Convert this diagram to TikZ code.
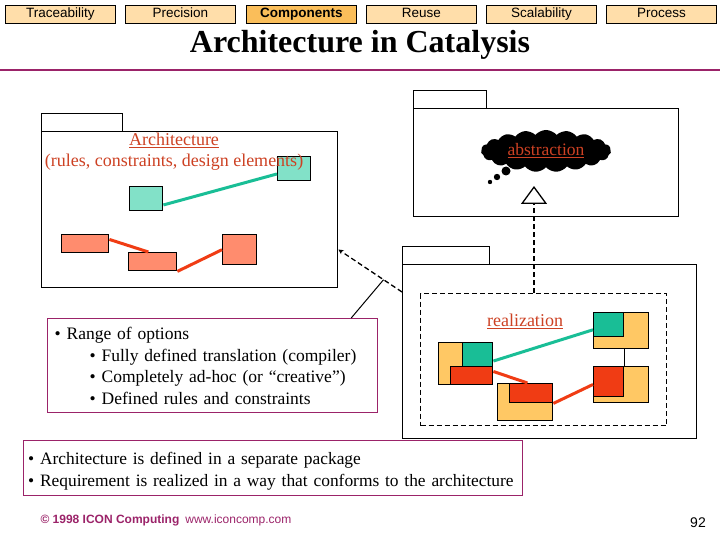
\documentclass[tikz,border=0pt]{standalone}
\usepackage{fontspec}
\setmainfont{Liberation Serif}
\setsansfont{Liberation Sans}
\usetikzlibrary{calc}
\usetikzlibrary{arrows.meta}
\usetikzlibrary{shapes.symbols}
\definecolor[named]{ICONPeach}{RGB}{255,222,170}
\definecolor[named]{ICONGold}{RGB}{250,190,90}
\definecolor[named]{ICONPlum}{RGB}{155,35,105}
\definecolor[named]{ICONBrick}{RGB}{205,65,35}
\definecolor[named]{ICONTeal}{RGB}{25,190,150}
\definecolor[named]{ICONMint}{RGB}{130,225,200}
\definecolor[named]{ICONRed}{RGB}{240,60,20}
\definecolor[named]{ICONSalmon}{RGB}{255,140,110}
\definecolor[named]{ICONOrange}{RGB}{255,200,100}
\newcommand{\lw}{1.4pt}
\newcommand{\fs}[2][1.2]{\fontsize{#2}{#1\dimexpr #2pt\relax}\selectfont}
\tikzset{
  navtab/.style={draw,line width=0.9pt,fill=ICONPeach,anchor=north west,
    minimum width=110pt,minimum height=18pt,inner sep=0pt,
    text height=9.5pt,text depth=2.5pt,font=\sffamily\fs{13.5}},
  pkg/.style={draw,line width=\lw,fill=white,anchor=north west,inner sep=0pt},
  part/.style={draw,line width=\lw,anchor=north west,inner sep=0pt},
  note/.style={draw=ICONPlum,line width=1.4pt,fill=white,align=left,
    font=\fontsize{17.5}{21.5}\selectfont,inner ysep=0pt},
  teal link/.style={ICONTeal,line width=3pt},
  red link/.style={ICONRed,line width=3pt},
  dep/.style={line width=1.3pt,dash pattern=on 5pt off 3pt}
}

\begin{document}
\begin{tikzpicture}[x=1pt,y=-1pt]
  \useasboundingbox (0,0) rectangle (720,540);

  % Navigation tabs
  \foreach \name/\x in {Traceability/5,Precision/125,Reuse/366,Scalability/486,Process/606}
    \node[navtab] (nav-\name) at (\x,5) {\name};
  \node[navtab,fill=ICONGold,font=\sffamily\bfseries\fs{13.5}] (nav-Components) at (246,5) {Components};

  % Title
  \node[font=\bfseries\fs{32}] (title) at (360,45) {Architecture in Catalysis};
  \draw[ICONPlum,line width=2.5pt] (0,70) -- (720,70);

  % Architecture package
  \node[pkg,minimum width=81pt,minimum height=18pt] (archTab) at (41,113) {};
  \node[pkg,minimum width=296pt,minimum height=156pt] (archPkg) at (41,131) {};
  \begin{scope}[every node/.style={part}]
    \node[fill=ICONMint,minimum width=33pt,minimum height=24pt] (T1) at (129,186) {};
    \node[fill=ICONMint,minimum width=33pt,minimum height=24pt] (T2) at (277,156) {};
    \node[fill=ICONSalmon,minimum width=47pt,minimum height=18pt] (S1) at (61,234) {};
    \node[fill=ICONSalmon,minimum width=48pt,minimum height=18pt] (S2) at (128,252) {};
    \node[fill=ICONSalmon,minimum width=34pt,minimum height=30pt] (S3) at (222,234) {};
  \end{scope}
  \draw[teal link] (T1.-20) -- (T2.197);
  \draw[red link] (S1.10) -- (S2.114);
  \draw[red link] (S2.south east) -- (S3.west);
  \node[align=center,text=ICONBrick,font=\fontsize{18}{21}\selectfont] (archLbl) at (174,152)
    {\underline{Architecture}\\(rules, constraints, design elements)};

  % Abstraction package
  \node[pkg,minimum width=73pt,minimum height=18pt] (absTab) at (413,90) {};
  \node[pkg,minimum width=265pt,minimum height=108pt] (absPkg) at (413,108) {};
  \node[cloud,cloud puffs=19,cloud puff arc=100,aspect=3.2,fill=black,
        minimum width=130pt,minimum height=42pt,inner sep=0pt,
        text=ICONBrick,font=\fs{17.5}] (cloudy) at (546,151) {\underline{abstraction}};
  \fill (506,171) circle (4.5pt);
  \fill (497,177) circle (3.2pt);
  \fill (490,182) circle (2.2pt);

  % Realization package
  \node[pkg,minimum width=87pt,minimum height=18pt] (realTab) at (402,246) {};
  \node[pkg,minimum width=294pt,minimum height=174pt] (realPkg) at (402,264) {};
  \node[part,dep,line width=1.2pt,minimum width=246pt,minimum height=132pt] (realiz) at (420,293) {};
  \node[text=ICONBrick,font=\fs{18}] (realLbl) at (525,321) {\underline{realization}};

  % Composite parts
  \begin{scope}[every node/.style={part}]
    \node[fill=ICONOrange,minimum width=54pt,minimum height=42pt] (Aout) at (438,342) {};
    \node[fill=ICONTeal,minimum width=30pt,minimum height=24pt,anchor=north east] (Ateal) at (Aout.north east) {};
    \node[fill=ICONRed,minimum width=42pt,minimum height=18pt,anchor=south east] (Ared) at (Aout.south east) {};
    \node[fill=ICONOrange,minimum width=55pt,minimum height=37pt] (Bout) at (497,383) {};
    \node[fill=ICONRed,minimum width=43pt,minimum height=19pt,anchor=north east] (Bred) at (Bout.north east) {};
    \node[fill=ICONOrange,minimum width=55pt,minimum height=36pt] (Cout) at (593,312) {};
    \node[fill=ICONTeal,minimum width=30pt,minimum height=24pt] (Cteal) at (Cout.north west) {};
    \node[fill=ICONOrange,minimum width=55pt,minimum height=36pt] (Dout) at (593,366) {};
    \node[fill=ICONRed,minimum width=30pt,minimum height=30pt] (Dred) at (Dout.north west) {};
  \end{scope}
  \draw[teal link] (Ateal.-22) -- (Cteal.198);
  \draw[red link] (Ared.11) -- (Bred.110);
  \draw[red link] (Bred.south east) -- (Dred.190);
  \draw[line width=1.2pt] (Cteal.east |- Cout.south) -- (Cteal.east |- Dout.north);

  % Realization refines abstraction
  \coordinate (genTip) at (534,186);
  \draw[dep,-{Triangle[open,length=18pt,width=26pt]}] (realiz.north -| genTip) -- (genTip);

  % Dependency on the architecture
  \draw[dep,-{Stealth[length=5pt,width=5pt]}] (realPkg.158) -- (archPkg.-15);
  \coordinate (depMid) at ($(realPkg.158)!0.29!(archPkg.-15)$);

  % Notes
  \node[note,anchor=north west,text width=316pt,minimum height=94pt,inner xsep=7pt] (rangeBox) at (47,318)
    {\textbullet\ Range of options\\
     \hspace*{35pt}\textbullet\ Fully defined translation (compiler)\\
     \hspace*{35pt}\textbullet\ Completely ad-hoc (or “creative”)\\
     \hspace*{35pt}\textbullet\ Defined rules and constraints};
  \draw[line width=1pt] (rangeBox.19) -- (depMid);
  \node[note,anchor=north west,text width=490pt,minimum height=55pt,inner xsep=4.5pt,
        font=\fontsize{17.4}{22}\selectfont] (sumBox) at (23,440)
    {\rule{0pt}{18pt}\textbullet\ Architecture is defined in a separate package\\
     \textbullet\ Requirement is realized in a way that conforms to the architecture};

  % Footer
  \node[anchor=west,text=ICONPlum,font=\sffamily\fs{12}] (footer) at (37,520)
    {\textbf{© 1998 ICON Computing}\enspace www.iconcomp.com};
  \node[font=\sffamily\fs{14}] (pageNo) at (698,523) {92};
\end{tikzpicture}
\end{document}
